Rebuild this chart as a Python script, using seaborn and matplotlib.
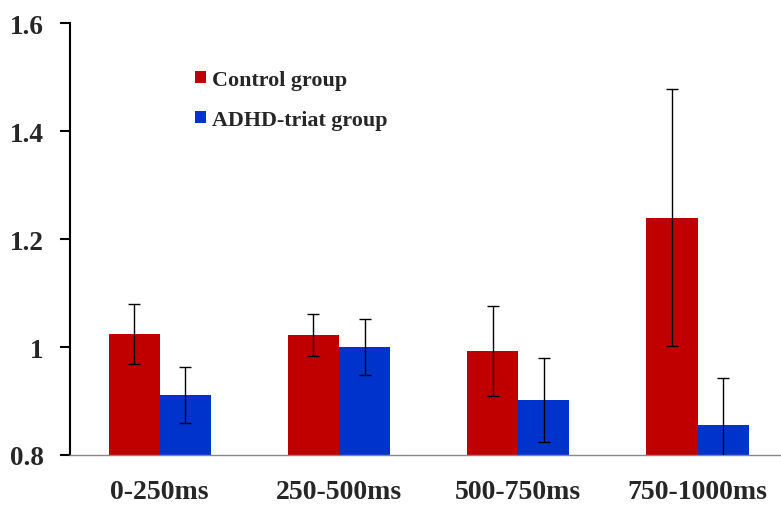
import matplotlib
matplotlib.use("Agg")
import matplotlib.pyplot as plt
import seaborn as sns
import pandas as pd
import numpy as np
from matplotlib.patches import Patch
from matplotlib.ticker import FixedLocator

categories = ["0-250ms", "250-500ms", "500-750ms", "750-1000ms"]
groups = ["Control group", "ADHD-triat group"]
control_vals = [1.024, 1.022, 0.993, 1.239]
control_err = [0.056, 0.039, 0.083, 0.238]
adhd_vals = [0.911, 1.000, 0.902, 0.856]
adhd_err = [0.052, 0.052, 0.077, 0.086]
ytick_vals = [0.8, 1.0, 1.2, 1.4, 1.6]
ytick_labels = ["0.8", "1", "1.2", "1.4", "1.6"]
colors = ["#C00000", "#0033CC"]

df = pd.DataFrame({
    "cat": categories * 2,
    "group": [groups[0]] * 4 + [groups[1]] * 4,
    "val": control_vals + adhd_vals,
    "err": control_err + adhd_err,
})

sns.set_style("white")
plt.rcParams["font.family"] = ["Liberation Serif", "DejaVu Serif"]
plt.rcParams["font.weight"] = "bold"

fig = plt.figure(figsize=(7.81, 5.06), dpi=100)
ax = fig.add_axes([70 / 781, 50 / 506, 711 / 781, 432 / 506])

sns.barplot(data=df, x="cat", y="val", hue="group", order=categories,
            hue_order=groups, palette=colors, width=0.57, gap=0,
            errorbar=None, saturation=1, ax=ax, legend=False, linewidth=0)

# error bars at the bar centers
for gi, (vals, errs) in enumerate([(control_vals, control_err), (adhd_vals, adhd_err)]):
    cont = ax.containers[gi]
    xs = [p.get_x() + p.get_width() / 2 for p in cont.patches]
    ax.errorbar(xs, vals, yerr=errs, fmt="none", ecolor="black",
                elinewidth=1, capsize=4, capthick=1, zorder=5)

ax.set_ylim(0.8, 1.6)
ax.set_xlim(-0.5, 711 / 179.3 - 0.5)
ax.set_yticks(ytick_vals)
ax.set_yticklabels(ytick_labels, fontsize=19.5, fontweight="bold")
ax.set_xticks(range(len(categories)))
ax.set_xticklabels(categories, fontsize=20, fontweight="bold")
ax.tick_params(axis="x", which="major", length=0, pad=17)
ax.xaxis.set_minor_locator(FixedLocator([-0.5, 0.5, 1.5, 2.5]))
ax.tick_params(axis="x", which="minor", length=8, color="#888888", width=1, direction="out")
ax.tick_params(axis="y", length=7, width=1.5, color="black", direction="out", left=True, pad=12)
ax.set_xlabel("")
ax.set_ylabel("")

for s in ["top", "right"]:
    ax.spines[s].set_visible(False)
ax.spines["left"].set_color("black")
ax.spines["left"].set_linewidth(1.5)
ax.spines["bottom"].set_color("#888888")
ax.spines["bottom"].set_linewidth(1)

handles = [Patch(facecolor=c, edgecolor="none") for c in colors]
fig.legend(handles, groups, loc="upper left",
           bbox_to_anchor=(195 / 781, 1 - 71 / 506), bbox_transform=fig.transFigure,
           frameon=False, prop={"family": "Liberation Serif", "weight": "bold", "size": 15.8},
           handlelength=0.48, handleheight=0.48, handletextpad=0.3,
           labelspacing=0.9, borderpad=0, borderaxespad=0)

fig.savefig("out.png", dpi=100)
